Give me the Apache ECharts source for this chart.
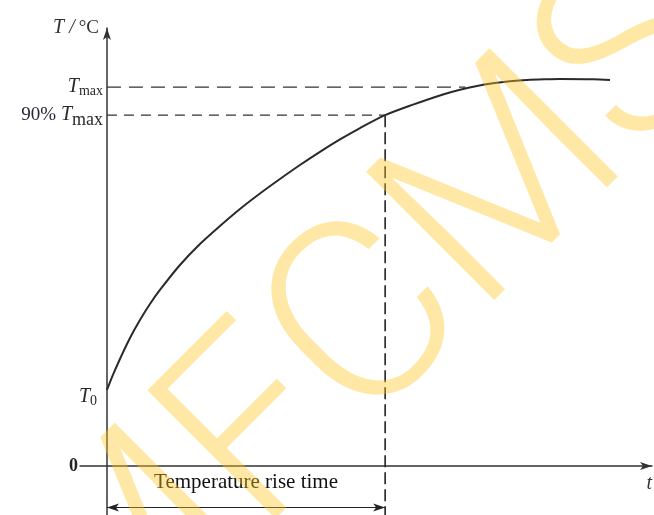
<!DOCTYPE html>
<html><head><meta charset="utf-8">
<script src="https://cdn.jsdelivr.net/npm/echarts@6/dist/echarts.min.js"></script>
<style>html,body{margin:0;padding:0;background:#fff}#c{width:654px;height:515px}</style>
</head><body><div id="c"></div>
<script>
// time (arbitrary units) and temperature (arbitrary units)
const curveX = [0, 1.11, 2.41, 4.27, 6.12, 7.98, 9.83, 13.54, 17.25, 20.96, 24.67, 28.38, 32.09, 35.80, 39.51, 43.22, 46.94, 51.6, 56.77, 62.33, 65.49, 68.64, 71.61, 74.76, 77.92, 81.26, 84.04, 90.16, 93.32];
const curveT = [17.35, 20.77, 24.43, 29.22, 33.33, 36.98, 40.18, 45.88, 50.68, 54.79, 58.67, 62.21, 65.52, 68.71, 71.72, 74.55, 77.16, 80.1, 82.50, 84.83, 85.92, 86.77, 87.36, 87.82, 88.14, 88.30, 88.37, 88.30, 88.12];
const T0 = 17.35, Tmax = 86.5, T90 = 80.1;
const riseTime = 51.6, tmaxLineEnd = 66.5;
const arrowLevel = -9.5;
const yTickValues = [0, T0, T90, Tmax];
const yTickLabels = ['{zero|0}', '{it0|T}{sub0|0}', '{n|90% }{it|T}{sub2|max}', '{it|T}{sub|max}'];
const riseLabel = 'Temperature rise time';
const yName = '{it|T /}{n|°C}';
const xName = 't';

const chart = echarts.init(document.getElementById('c'), null, {renderer: 'canvas'});
const ink = '#2a2a2a';
const serif = 'Liberation Serif';
chart.setOption({
  animation: false,
  backgroundColor: '#fff',
  grid: {left: 80, right: 2, top: 28, bottom: 0, outerBoundsMode: 'none'},
  xAxis: {
    type: 'value', min: -5, max: 101.1,
    axisLine: {show: true, onZero: true, symbol: ['none', 'arrow'], symbolSize: [6, 12],
      lineStyle: {color: '#333', width: 1.5}},
    axisTick: {show: false}, axisLabel: {show: false}, splitLine: {show: false},
    name: xName, nameLocation: 'end', nameGap: 0,
    nameTextStyle: {fontFamily: serif, fontStyle: 'italic', fontSize: 20, color: '#333',
      align: 'right', verticalAlign: 'top', padding: [8, 0, 0, 0]}
  },
  yAxis: {
    type: 'value', min: -11.2, max: 100,
    axisLine: {show: true, onZero: true, symbol: ['none', 'arrow'], symbolSize: [6, 12],
      lineStyle: {color: '#333', width: 1.5}},
    axisTick: {show: false}, splitLine: {show: false},
    axisLabel: {
      customValues: yTickValues, margin: -23,
      formatter: function (v) { const i = yTickValues.indexOf(v); return i >= 0 ? yTickLabels[i] : ''; },
      rich: {
        it: {fontFamily: serif, fontStyle: 'italic', fontSize: 20, color: '#2a2a2a'},
        sub: {fontFamily: serif, fontSize: 14, color: '#2a2a2a', padding: [8, 0, 0, 0]},
        sub2: {fontFamily: serif, fontSize: 18, color: '#2a2a2a', padding: [10, 0, 0, 0]},
        it0: {fontFamily: serif, fontStyle: 'italic', fontSize: 20, color: '#2a2a2a', padding: [14, 0, 0, 0]},
        sub0: {fontFamily: serif, fontSize: 14, color: '#2a2a2a', padding: [22, 6, 0, 0]},
        n: {fontFamily: serif, fontSize: 19, color: '#242838'},
        zero: {fontFamily: serif, fontWeight: 'bold', fontSize: 18, color: '#222', padding: [0, 25, 0, 0]}
      }
    },
    name: yName, nameLocation: 'end', nameGap: 0,
    nameTextStyle: {align: 'right', verticalAlign: 'middle', padding: [0, 8, 0, 0],
      rich: {
        it: {fontFamily: serif, fontStyle: 'italic', fontSize: 20, color: '#333'},
        n: {fontFamily: serif, fontSize: 19, color: '#333', padding: [0, 0, 0, 4]}
      }}
  },
  series: [
    {type: 'line', data: curveX.map((x, i) => [x, curveT[i]]), smooth: 0.3, showSymbol: false,
      lineStyle: {color: ink, width: 2}, z: 5},
    {type: 'line', data: [[0, Tmax], [tmaxLineEnd, Tmax]], showSymbol: false,
      lineStyle: {color: '#333', width: 1.3, type: [14, 8]}},
    {type: 'line', data: [[0, T90], [riseTime, T90]], showSymbol: false,
      lineStyle: {color: '#333', width: 1.2, type: [10, 7]}},
    {type: 'line', data: [[riseTime, T90], [riseTime, -11.2]], showSymbol: false,
      lineStyle: {color: '#222', width: 1.6, type: [12, 5]},
      markLine: {
        silent: true, symbol: ['arrow', 'arrow'], symbolSize: [6, 12],
        lineStyle: {color: '#222', width: 1.2, type: 'solid'},
        label: {show: true, position: 'middle', formatter: riseLabel, distance: 4,
          fontFamily: serif, fontSize: 21, color: '#111', backgroundColor: '#fff',
          padding: [3, 29, 11, 29]},
        data: [[{coord: [0, arrowLevel]}, {coord: [riseTime, arrowLevel]}]]
      }}
  ],
  graphic: [{
    type: 'text', x: 377, y: 327, rotation: 45 * Math.PI / 180, z: 100, silent: true,
    style: {text: 'MFCMS', font: '300 255px Roboto', fill: '#FFC21E', opacity: 0.4,
      align: 'center', verticalAlign: 'middle'}
  }]
});
</script></body></html>
